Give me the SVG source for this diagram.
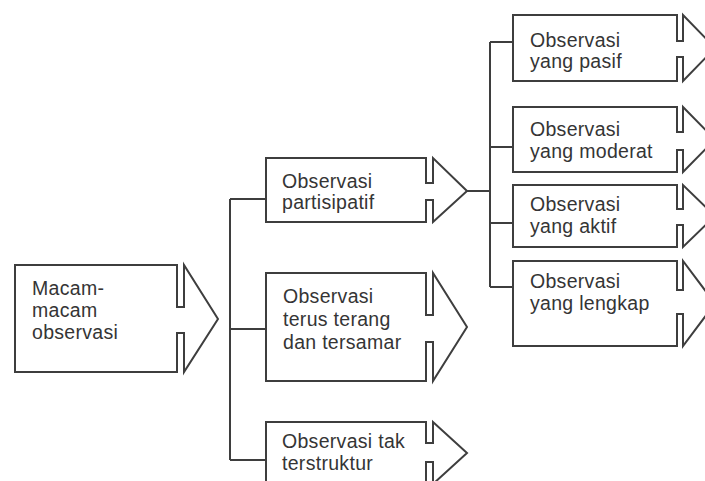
<svg xmlns="http://www.w3.org/2000/svg" width="705" height="481" viewBox="0 0 705 481">
<style>
.box{fill:#fff;stroke:#3e3e3e;stroke-width:2;stroke-linejoin:miter}
.con{fill:none;stroke:#3e3e3e;stroke-width:2}
.t{font-family:"Liberation Sans",Arial,Helvetica,sans-serif;font-size:19.5px;letter-spacing:0.3px;fill:#353535}
</style>
<rect width="705" height="481" fill="#fff"/>
<g id="connectors">
<path class="con" d="M230,199 V460 M230,199 H266 M230,329 H266 M230,460 H266"/>
<path class="con" d="M467,191 H490 M490,42 V287 M490,42 H513 M490,147 H513 M490,223 H513 M490,287 H513"/>
</g>
<g id="macam">
<path class="box" d="M15,265 H177 V307 H184 V265 L218,319 L184,372 V333 H177 V372 H15 Z"/>
<text class="t" x="32" y="295">Macam-<tspan x="32" dy="22">macam</tspan><tspan x="32" dy="22">observasi</tspan></text>
</g>
<g id="partisipatif">
<path class="box" d="M266,158 H426 V183 H433 V158 L467,191 L433,222 V200 H426 V222 H266 Z"/>
<text class="t" x="282" y="188">Observasi<tspan x="282" dy="21">partisipatif</tspan></text>
</g>
<g id="terus">
<path class="box" d="M266,273 H426 V315 H433 V273 L467,327 L433,381 V342 H426 V381 H266 Z"/>
<text class="t" x="283" y="303">Observasi<tspan x="283" dy="23">terus terang</tspan><tspan x="283" dy="23">dan tersamar</tspan></text>
</g>
<g id="tak">
<path class="box" d="M266,422 H426 V443 H433 V422 L467,453 L433,484 V462 H426 V484 H266 Z"/>
<text class="t" x="282" y="448">Observasi tak<tspan x="282" dy="22">terstruktur</tspan></text>
</g>
<g id="pasif">
<path class="box" d="M513,15 H677 V41 H683 V15 L715,48 L683,81 V57 H677 V81 H513 Z"/>
<text class="t" x="530" y="47">Observasi<tspan x="530" dy="21">yang pasif</tspan></text>
</g>
<g id="moderat">
<path class="box" d="M513,107 H677 V132 H683 V107 L715,139.5 L683,172 V150 H677 V172 H513 Z"/>
<text class="t" x="530" y="136">Observasi<tspan x="530" dy="22">yang moderat</tspan></text>
</g>
<g id="aktif">
<path class="box" d="M513,185 H677 V209 H683 V185 L715,216 L683,247 V225 H677 V247 H513 Z"/>
<text class="t" x="530" y="211">Observasi<tspan x="530" dy="22">yang aktif</tspan></text>
</g>
<g id="lengkap">
<path class="box" d="M513,261 H677 V290 H683 V261 L715,303.5 L683,346 V314 H677 V346 H513 Z"/>
<text class="t" x="530" y="288">Observasi<tspan x="530" dy="22">yang lengkap</tspan></text>
</g>
</svg>
